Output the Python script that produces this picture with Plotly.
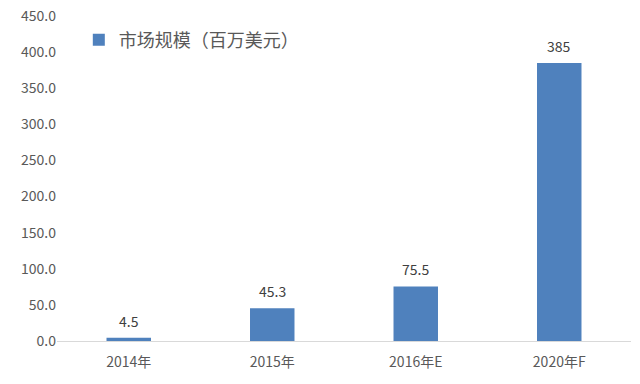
import plotly.graph_objects as go

categories = ["2014年", "2015年", "2016年E", "2020年F"]
values = [4.5, 45.3, 75.5, 385]
labels = ["4.5", "45.3", "75.5", "385"]
series_name = "市场规模（百万美元）"

font_family = "Noto Sans CJK SC, Microsoft YaHei, sans-serif"

fig = go.Figure()
fig.add_trace(go.Bar(
    x=categories, y=values, name=series_name,
    marker=dict(color="#4f81bd", line=dict(width=0)),
    showlegend=True,
))

for c, v, t in zip(categories, values, labels):
    fig.add_annotation(x=c, y=v, text=t, showarrow=False, yanchor="middle",
                       yshift=17, font=dict(size=14, color="#404040", family=font_family))

fig.update_layout(
    width=640, height=384,
    margin=dict(l=57, r=9, t=16, b=43),
    paper_bgcolor="white", plot_bgcolor="white",
    bargap=0.69,
    font=dict(family=font_family, color="#595959"),
    showlegend=True,
    legend=dict(x=0.038, y=0.926, xanchor="left", yanchor="middle",
                bgcolor="rgba(0,0,0,0)",
                font=dict(size=18, color="#595959", family=font_family),
                itemwidth=30),
    xaxis=dict(showgrid=False, showline=True, linecolor="#d9d9d9", linewidth=1,
               ticks="", ticklabelstandoff=8, automargin=False,
               tickfont=dict(size=14, color="#595959")),
    yaxis=dict(range=[0, 450], dtick=50, tickformat=".1f", showgrid=False,
               zeroline=False, showline=False, ticks="", ticklabeloverflow="allow",
               automargin=False,
               tickfont=dict(size=14, color="#595959")),
)

fig.write_html("out.html",
               config={"displayModeBar": False},
               post_script="document.body.style.margin='0';document.body.style.overflow='hidden';")
